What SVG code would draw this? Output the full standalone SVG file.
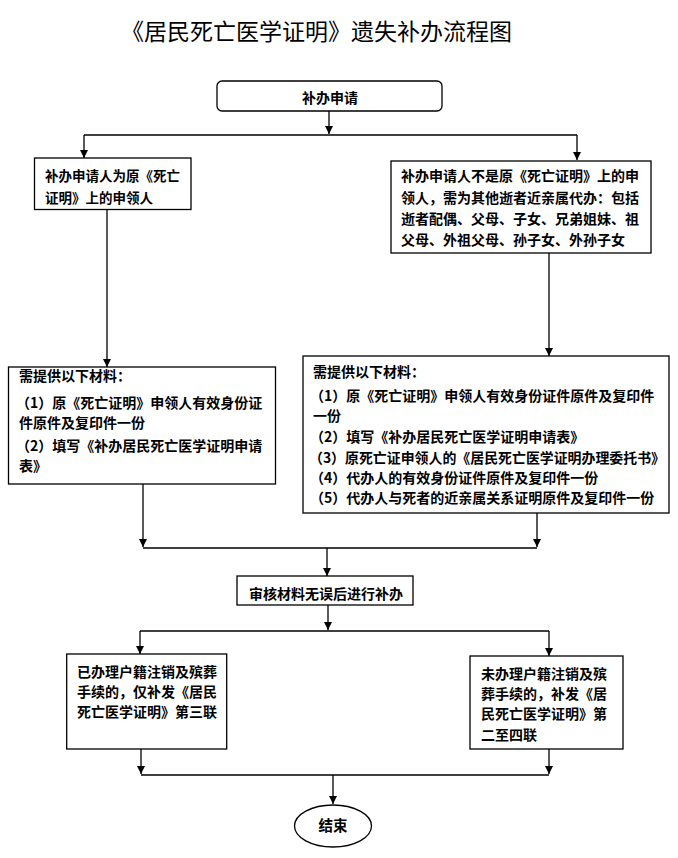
<svg xmlns="http://www.w3.org/2000/svg" width="678" height="858" viewBox="0 0 678 858">
<defs>
<marker id="ah" markerUnits="userSpaceOnUse" markerWidth="8" markerHeight="8" refX="8" refY="4" orient="auto">
<path d="M0,0 L8,4 L0,8 z" fill="#000"/>
</marker>
<style>
.bx{fill:#fff;stroke:#000;stroke-width:1.3}
.t{font-family:"Noto Sans CJK SC","Noto Sans",sans-serif;font-size:14px;font-weight:700;fill:#000}
.ttl{font-family:"Noto Sans CJK SC","Noto Sans",sans-serif;font-size:23px;font-weight:400;fill:#000}
.c{fill:none;stroke:#000;stroke-width:1.3}
.a{marker-end:url(#ah)}
</style>
</defs>
<rect width="678" height="858" fill="#fff"/>
<text class="ttl" x="121" y="40">《居民死亡医学证明》遗失补办流程图</text>

<g id="connectors">
<path class="c a" d="M329,111 V134"/>
<path class="c" d="M84,135 H577"/>
<path class="c a" d="M84,135 V158"/>
<path class="c a" d="M577,135 V160"/>
<path class="c a" d="M107,210 V367"/>
<path class="c a" d="M549,253 V356"/>
<path class="c a" d="M143,484 V547"/>
<path class="c a" d="M537,513 V547"/>
<path class="c" d="M143,548 H537"/>
<path class="c a" d="M327,548 V576"/>
<path class="c a" d="M328,605 V630"/>
<path class="c" d="M140,631 H549"/>
<path class="c a" d="M140,631 V654"/>
<path class="c a" d="M549,631 V656"/>
<path class="c a" d="M141,749 V774"/>
<path class="c a" d="M549,749 V774"/>
<path class="c" d="M141,775 H549"/>
<path class="c a" d="M333,775 V804"/>
</g>

<g id="n_start">
<rect class="bx" x="217" y="81" width="225" height="30" rx="5"/>
<text class="t" x="330" y="103" text-anchor="middle">补办申请</text>
</g>

<g id="n_self">
<rect class="bx" x="34.5" y="158" width="156.5" height="51.5"/>
<text class="t" x="45" y="180.5" style="font-size:13.5px">补办申请人为原《死亡</text>
<text class="t" x="45" y="202.5" style="font-size:13.5px">证明》上的申领人</text>
</g>

<g id="n_agent">
<rect class="bx" x="391" y="161" width="260" height="92"/>
<text class="t" x="401" y="180.5">补办申请人不是原《死亡证明》上的申</text>
<text class="t" x="401" y="202.5">领人，需为其他逝者近亲属代办：包括</text>
<text class="t" x="401" y="224">逝者配偶、父母、子女、兄弟姐妹、祖</text>
<text class="t" x="401" y="244.5">父母、外祖父母、孙子女、外孙子女</text>
</g>

<g id="n_mat_self">
<rect class="bx" x="8.5" y="367" width="267" height="117"/>
<text class="t" x="19" y="381">需提供以下材料：</text>
<text class="t" x="16" y="408">（1）原《死亡证明》申领人有效身份证</text>
<text class="t" x="19" y="428">件原件及复印件一份</text>
<text class="t" x="16" y="451">（2）填写《补办居民死亡医学证明申请</text>
<text class="t" x="19" y="471">表》</text>
</g>

<g id="n_mat_agent">
<rect class="bx" x="303" y="356" width="366" height="157"/>
<text class="t" x="313" y="377">需提供以下材料：</text>
<text class="t" x="310" y="401">（1）原《死亡证明》申领人有效身份证件原件及复印件</text>
<text class="t" x="313" y="421">一份</text>
<text class="t" x="310" y="442">（2）填写《补办居民死亡医学证明申请表》</text>
<text class="t" x="309" y="462.5" textLength="356" lengthAdjust="spacingAndGlyphs">（3）原死亡证申领人的《居民死亡医学证明办理委托书》</text>
<text class="t" x="310" y="482.5">（4）代办人的有效身份证件原件及复印件一份</text>
<text class="t" x="310" y="502.5">（5）代办人与死者的近亲属关系证明原件及复印件一份</text>
</g>

<g id="n_review">
<rect class="bx" x="237" y="576" width="176" height="29"/>
<text class="t" x="326" y="598.5" text-anchor="middle">审核材料无误后进行补办</text>
</g>

<g id="n_done">
<rect class="bx" x="66.7" y="654" width="160" height="95"/>
<text class="t" x="77" y="677">已办理户籍注销及殡葬</text>
<text class="t" x="77" y="697">手续的，仅补发《居民</text>
<text class="t" x="77" y="717">死亡医学证明》第三联</text>
</g>

<g id="n_notdone">
<rect class="bx" x="470" y="656" width="153" height="93"/>
<text class="t" x="481" y="678.5">未办理户籍注销及殡</text>
<text class="t" x="481" y="698.5">葬手续的，补发《居</text>
<text class="t" x="481" y="719">民死亡医学证明》第</text>
<text class="t" x="481" y="740">二至四联</text>
</g>

<g id="n_end">
<ellipse class="bx" cx="333" cy="826" rx="38.5" ry="21"/>
<text class="t" x="333" y="831" text-anchor="middle" style="font-size:14.5px">结束</text>
</g>
</svg>
